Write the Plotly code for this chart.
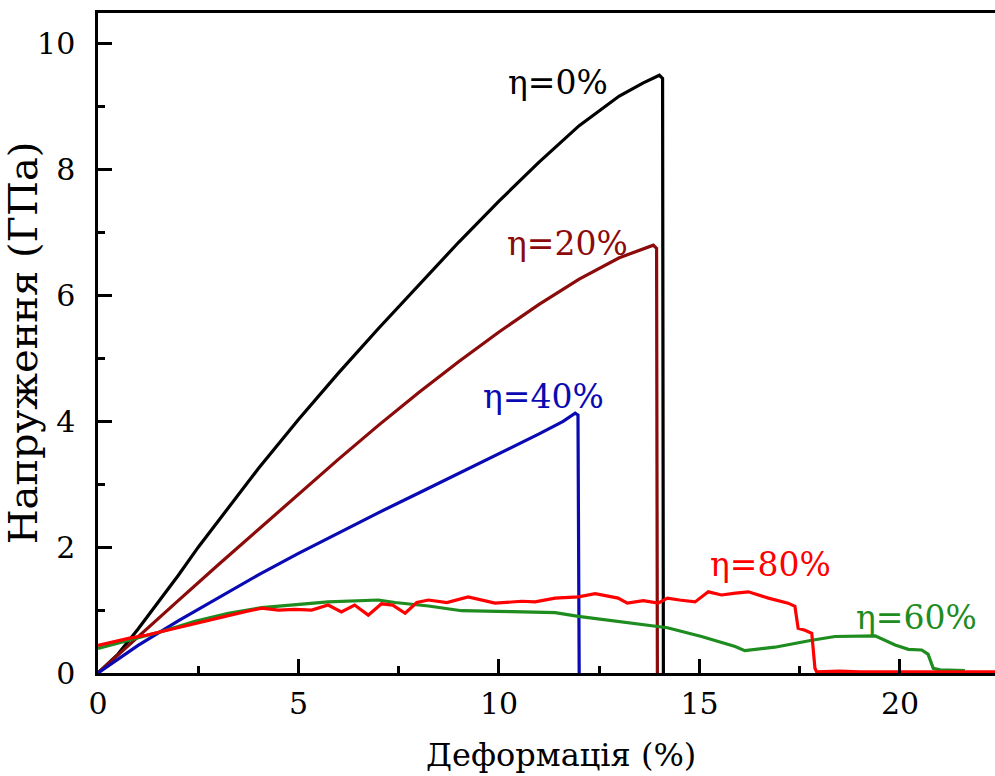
import plotly.graph_objects as go

# ---- data ----
x_eta0 = [0, 0.5, 1, 1.5, 2, 2.5, 3, 4, 5, 6, 7, 8, 9, 10, 11, 12, 13, 13.6, 14.0, 14.08, 14.1]
y_eta0 = [0, 0.3, 0.7, 1.12, 1.55, 2.0, 2.42, 3.25, 4.03, 4.77, 5.48, 6.17, 6.85, 7.5, 8.12, 8.7, 9.17, 9.38, 9.5, 9.45, 0]

x_eta20 = [0, 1, 2, 3, 4, 5, 6, 7, 8, 9, 10, 11, 12, 13, 13.6, 13.85, 13.93, 13.95]
y_eta20 = [0, 0.58, 1.15, 1.72, 2.28, 2.85, 3.4, 3.94, 4.46, 4.95, 5.42, 5.86, 6.26, 6.6, 6.75, 6.8, 6.75, 0]

x_eta40 = [0, 1, 2, 3, 4, 5, 6, 7, 8, 9, 10, 11, 11.6, 11.9, 11.97, 12.0]
y_eta40 = [0, 0.44, 0.83, 1.2, 1.56, 1.9, 2.23, 2.55, 2.86, 3.17, 3.48, 3.8, 4.0, 4.13, 4.1, 0]

x_eta60 = [0, 0.76, 1.59, 2.42, 3.25, 4.08, 4.91, 5.74, 6.99, 7.41, 8.24, 9.07, 10.32, 11.4, 11.98,
           12.97, 13.97, 14.2, 15.05, 15.89, 16.13, 16.88, 17.8, 18.38, 19.38, 19.88, 20.21, 20.54,
           20.7, 20.83, 21.0, 21.62]
y_eta60 = [0.39, 0.52, 0.66, 0.82, 0.95, 1.04, 1.09, 1.13, 1.16, 1.12, 1.065, 0.99, 0.975, 0.96, 0.9,
           0.82, 0.74, 0.72, 0.58, 0.42, 0.355, 0.41, 0.52, 0.58, 0.59, 0.445, 0.376, 0.366,
           0.3, 0.075, 0.05, 0.04]

x_eta80 = [0, 0.4, 0.76, 1.2, 1.59, 2.0, 2.42, 2.85, 3.25, 3.67, 4.08, 4.5, 4.91, 5.33, 5.74, 6.07,
           6.4, 6.74, 7.07, 7.35, 7.66, 7.95, 8.24, 8.7, 9.23, 9.9, 10.57, 10.9, 11.4, 11.98, 12.4,
           12.97, 13.2, 13.6, 13.97, 14.2, 14.5, 14.89, 15.22, 15.55, 15.9, 16.22, 16.72, 17.0,
           17.21, 17.38, 17.46, 17.63, 17.8, 17.88, 17.92, 18.5, 19, 20, 21, 22, 22.4]
y_eta80 = [0.44, 0.5, 0.55, 0.6, 0.66, 0.72, 0.79, 0.86, 0.92, 0.975, 1.03, 1.0, 1.01, 1.0, 1.08, 0.97,
           1.08, 0.92, 1.1, 1.08, 0.95, 1.12, 1.16, 1.12, 1.21, 1.11, 1.14, 1.13, 1.19, 1.21, 1.26,
           1.19, 1.11, 1.15, 1.11, 1.19, 1.16, 1.13, 1.29, 1.24, 1.27, 1.29, 1.19, 1.15,
           1.11, 1.06, 0.71, 0.68, 0.63, 0.075, 0.02, 0.03, 0.02, 0.02, 0.02, 0.02, 0.02]

labels = ["η=0%", "η=20%", "η=40%", "η=60%", "η=80%"]
label_x = [11.47, 11.72, 11.1, 20.42, 16.76]
label_y = [9.38, 6.82, 4.4, 0.89, 1.72]
colors = ["#000000", "#8B0A0A", "#0A0AB4", "#1E8C1E", "#FF0000"]

x_ticks = [0, 5, 10, 15, 20]
y_ticks = [0, 2, 4, 6, 8, 10]

FONT = "DejaVu Serif"

series = [(x_eta0, y_eta0), (x_eta20, y_eta20), (x_eta40, y_eta40), (x_eta60, y_eta60), (x_eta80, y_eta80)]

fig = go.Figure()
for (xs, ys), name, c in zip(series, labels, colors):
    fig.add_trace(go.Scatter(x=xs, y=ys, mode="lines", name=name,
                             line=dict(color=c, width=3.2), showlegend=False))

for t, xx, yy, c in zip(labels, label_x, label_y, colors):
    fig.add_annotation(x=xx, y=yy, text=t, showarrow=False, xanchor="center", yanchor="middle",
                       font=dict(family=FONT, size=33, color=c))

fig.add_annotation(xref="paper", yref="paper", x=(561 - 98) / 897, y=-(755 - 673) / 660,
                   text="Деформація (%)", showarrow=False, xanchor="center", yanchor="middle",
                   font=dict(family=FONT, size=32, color="black"))

fig.update_layout(
    width=995, height=776,
    margin=dict(l=98, r=0, t=13, b=103),
    paper_bgcolor="white", plot_bgcolor="white",
    font=dict(family=FONT, color="black"),
)
fig.update_xaxes(range=[0, 22.37], tickvals=x_ticks, ticktext=[str(v) for v in x_ticks],
                 ticks="inside", ticklen=14, tickwidth=2.5, tickcolor="black",
                 minor=dict(ticks="inside", ticklen=7, tickwidth=2.5, dtick=2.5, tickcolor="black"),
                 showline=True, linewidth=2.5, linecolor="black", mirror=True,
                 showgrid=False, zeroline=False,
                 tickfont=dict(family=FONT, size=30, color="black"), ticklabelstandoff=2)
fig.update_yaxes(range=[0, 10.49], tickvals=y_ticks, ticktext=[str(v) for v in y_ticks],
                 ticks="inside", ticklen=14, tickwidth=2.5, tickcolor="black",
                 minor=dict(ticks="inside", ticklen=7, tickwidth=2.5, dtick=1, tickcolor="black"),
                 showline=True, linewidth=2.5, linecolor="black", mirror=False,
                 showgrid=False, zeroline=False,
                 tickfont=dict(family=FONT, size=30, color="black"), ticklabelstandoff=14,
                 title=dict(text="Напруження (ГПа)", font=dict(family=FONT, size=40, color="black"),
                            standoff=6))

fig.write_html("out.html")
